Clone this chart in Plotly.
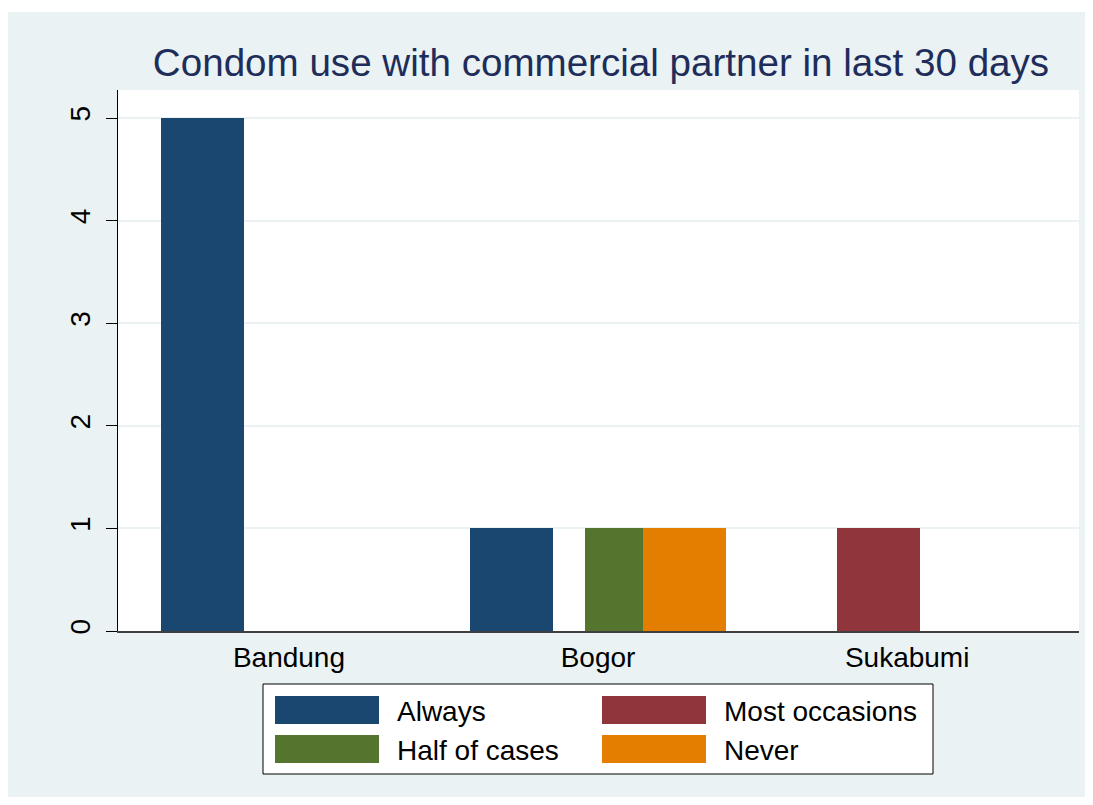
import plotly.graph_objects as go

# ---- data ----
categories = ["Bandung", "Bogor", "Sukabumi"]
series_names = ["Always", "Most occasions", "Half of cases", "Never"]
always = [5, 1, 0]
most_occasions = [0, 0, 1]
half_of_cases = [0, 1, 0]
never = [0, 1, 0]
y_ticks = [0, 1, 2, 3, 4, 5]
title_text = "Condom use with commercial partner in last 30 days"

series_values = [always, most_occasions, half_of_cases, never]
colors = ["#1a476f", "#90353b", "#55752f", "#e37e00"]

BG = "#eaf2f3"
FONT = "Arial, 'Liberation Sans', Helvetica, sans-serif"

# page-pixel -> paper helpers (figure drawn at page offset 8,8)
PL, PR, PT, PB = 118, 1079, 90, 631


def xf(px):
    return (px - PL) / (PR - PL)


def yf(py):
    return (PB - py) / (PB - PT)


bar_width = 0.2686
offsets = [-0.4142, -0.2276, -0.0409, 0.1457]

fig = go.Figure()
for name, vals, col, off in zip(series_names, series_values, colors, offsets):
    fig.add_trace(go.Bar(
        x=categories, y=vals, name=name,
        marker=dict(color=col, line=dict(width=0)),
        width=bar_width, offset=off, showlegend=False,
    ))

shapes = []
annotations = []

# top white strip of the page
shapes.append(dict(type="rect", xref="paper", yref="paper",
                   x0=xf(0), x1=xf(1100), y0=yf(12), y1=yf(0),
                   fillcolor="white", line=dict(width=0), layer="above"))

# custom legend
shapes.append(dict(type="rect", xref="paper", yref="paper",
                   x0=xf(263), x1=xf(933), y0=yf(774), y1=yf(684),
                   fillcolor="white", line=dict(color="black", width=1)))
col_sw = [(275, 379, 395), (602, 706, 722)]
row_y = [(696, 724), (735, 763)]
for i, (name, col) in enumerate(zip(series_names, colors)):
    r, c = divmod(i, 2)
    sx0, sx1, tx = col_sw[c]
    y0, y1 = row_y[r]
    shapes.append(dict(type="rect", xref="paper", yref="paper",
                       x0=xf(sx0), x1=xf(sx1), y0=yf(y1), y1=yf(y0),
                       fillcolor=col, line=dict(width=0)))
    annotations.append(dict(text=name, xref="paper", yref="paper",
                            x=xf(tx), y=yf((y0 + y1) / 2 + 1),
                            xanchor="left", yanchor="middle", showarrow=False,
                            font=dict(family=FONT, size=28, color="black")))

fig.update_layout(
    width=1077, height=789,
    margin=dict(l=110, r=6, t=82, b=166, pad=0),
    paper_bgcolor=BG, plot_bgcolor="white",
    barmode="overlay", bargap=0,
    title=dict(text=title_text, x=xf(601), xref="paper", xanchor="center",
               y=1 - 54 / 789, yref="container", yanchor="middle",
               font=dict(family=FONT, size=38.6, color="#1e2d5a")),
    font=dict(family=FONT, size=28, color="black"),
    shapes=shapes, annotations=annotations,
    xaxis=dict(range=[-0.553, 2.556], showgrid=False, showline=True,
               linecolor="#404040", linewidth=2, ticks="", zeroline=False,
               tickfont=dict(family=FONT, size=28, color="black")),
    yaxis=dict(range=[0, 5.273], tickvals=y_ticks, showgrid=True,
               gridcolor=BG, gridwidth=1.5, showline=True, linecolor="black",
               linewidth=1, ticks="outside", ticklen=11, tickcolor="black",
               tickwidth=1, tickangle=-90, zeroline=False, ticklabelstandoff=5,
               tickfont=dict(family=FONT, size=28, color="black")),
)

fig.write_html("out.html")
